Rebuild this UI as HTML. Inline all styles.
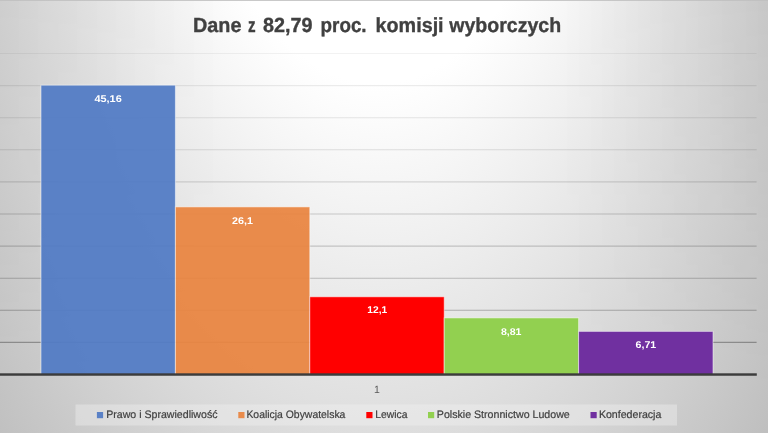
<!DOCTYPE html>
<html lang="pl">
<head>
<meta charset="utf-8">
<title>Dane z 82,79 proc. komisji wyborczych</title>
<style>
html,body{margin:0;padding:0;width:768px;height:433px;overflow:hidden;background:#d0d0d0;}
svg{display:block;position:absolute;left:0;top:0;}
text{font-family:"Liberation Sans",sans-serif;text-rendering:geometricPrecision;}
.title{font-weight:bold;font-size:20.5px;fill:#404040;stroke:#404040;stroke-width:0.35px;}
.dl{text-rendering:geometricPrecision;font-weight:bold;font-size:9.8px;fill:#ffffff;}
.lg{font-size:10.8px;fill:#404040;stroke:#404040;stroke-width:0.2px;}
.ax{font-size:10.5px;fill:#595959;}
</style>
</head>
<body>
<svg width="768" height="433" viewBox="0 0 768 433">
  <defs>
    <radialGradient id="bg" gradientUnits="userSpaceOnUse" cx="0" cy="0" r="1" gradientTransform="translate(378 -346.4) scale(548 1102.4)">
      <stop offset="0" stop-color="#ffffff"/>
      <stop offset="0.39" stop-color="#ffffff"/>
      <stop offset="1" stop-color="#bfbfbf"/>
    </radialGradient>
    <linearGradient id="vfade" x1="0" y1="0" x2="0" y2="1">
      <stop offset="0" stop-color="#ffffff"/>
      <stop offset="0.9" stop-color="#000000"/>
    </linearGradient>
    <linearGradient id="edge" gradientUnits="userSpaceOnUse" x1="0" y1="0" x2="768" y2="0">
      <stop offset="0" stop-color="#000000" stop-opacity="0.045"/>
      <stop offset="0.29" stop-color="#000000" stop-opacity="0"/>
      <stop offset="0.73" stop-color="#000000" stop-opacity="0"/>
      <stop offset="1" stop-color="#000000" stop-opacity="0.068"/>
    </linearGradient>
    <mask id="vm" maskUnits="userSpaceOnUse" x="0" y="0" width="768" height="433">
      <rect x="0" y="0" width="768" height="433" fill="url(#vfade)"/>
    </mask>
  </defs>
  <rect x="0" y="0" width="768" height="433" fill="url(#bg)"/>
  <rect x="0" y="0" width="768" height="433" fill="url(#edge)" mask="url(#vm)"/>
  <rect x="0" y="0" width="768" height="1" fill="#bfbfbf" fill-opacity="0.85"/>
  <!-- gridlines -->
  <g stroke="#000000" stroke-width="1.1">
    <line x1="0" x2="756.6" y1="53.5" y2="53.5" stroke-opacity="0.05"/>
    <line x1="0" x2="756.6" y1="85.6" y2="85.6" stroke-opacity="0.075"/>
    <line x1="0" x2="756.6" y1="117.7" y2="117.7" stroke-opacity="0.095"/>
    <line x1="0" x2="756.6" y1="149.8" y2="149.8" stroke-opacity="0.115"/>
    <line x1="0" x2="756.6" y1="181.9" y2="181.9" stroke-opacity="0.135"/>
    <line x1="0" x2="756.6" y1="214.0" y2="214.0" stroke-opacity="0.185"/>
    <line x1="0" x2="756.6" y1="246.1" y2="246.1" stroke-opacity="0.185"/>
    <line x1="0" x2="756.6" y1="278.2" y2="278.2" stroke-opacity="0.215"/>
    <line x1="0" x2="756.6" y1="310.3" y2="310.3" stroke-opacity="0.25"/>
    <line x1="0" x2="756.6" y1="342.4" y2="342.4" stroke-opacity="0.3"/>
  </g>
  <!-- bars -->
  <g stroke="#ffffff" stroke-opacity="0.5" stroke-width="1">
  <rect x="41.0" y="85.2" width="134.4" height="289.3" fill="#527bc5" fill-opacity="0.94"/>
  <rect x="175.4" y="206.9" width="134.4" height="167.6" fill="#e98541" fill-opacity="0.94"/>
  <rect x="309.8" y="296.8" width="134.4" height="77.7" fill="#ff0000"/>
  <rect x="444.2" y="317.9" width="134.4" height="56.6" fill="#92d050"/>
  <rect x="578.6" y="331.4" width="134.4" height="43.1" fill="#7030a0"/>
  </g>
  <!-- axis -->
  <rect x="0" y="373.3" width="756.8" height="2.45" fill="#3c3c3c"/>
  <!-- title -->
  <text class="title" y="32"><tspan x="193" textLength="48.5" lengthAdjust="spacingAndGlyphs">Dane</tspan> <tspan x="248" textLength="7.6" lengthAdjust="spacingAndGlyphs">z</tspan> <tspan x="263" textLength="49.5" lengthAdjust="spacingAndGlyphs">82,79</tspan> <tspan x="320.6" textLength="46" lengthAdjust="spacingAndGlyphs">proc.</tspan> <tspan x="375.6" textLength="68" lengthAdjust="spacingAndGlyphs">komisji</tspan> <tspan x="449.2" textLength="112" lengthAdjust="spacingAndGlyphs">wyborczych</tspan></text>
  <!-- data labels -->
  <text class="dl" transform="translate(108.1 102)" x="0" y="0" text-anchor="middle" textLength="27.3" lengthAdjust="spacingAndGlyphs">45,16</text>
  <text class="dl" transform="translate(242.4 223.5)" x="0" y="0" text-anchor="middle" textLength="21" lengthAdjust="spacingAndGlyphs">26,1</text>
  <text class="dl" transform="translate(377.3 313.1)" x="0" y="0" text-anchor="middle" textLength="20" lengthAdjust="spacingAndGlyphs">12,1</text>
  <text class="dl" transform="translate(511.2 334.8)" x="0" y="0" text-anchor="middle" textLength="20.6" lengthAdjust="spacingAndGlyphs">8,81</text>
  <text class="dl" transform="translate(645.9 347.8)" x="0" y="0" text-anchor="middle" textLength="20.7" lengthAdjust="spacingAndGlyphs">6,71</text>
  <!-- axis label -->
  <text class="ax" x="376.9" y="393" text-anchor="middle">1</text>
  <!-- legend -->
  <rect x="75.5" y="404.5" width="601.5" height="21" fill="#f2f2f2" fill-opacity="0.39"/>
  <rect x="96.9" y="412" width="6.2" height="6.2" fill="#527bc5" fill-opacity="0.94"/>
  <text class="lg" x="106.2" y="418" textLength="111.3" lengthAdjust="spacingAndGlyphs">Prawo i Sprawiedliwość</text>
  <rect x="238.3" y="412" width="6.2" height="6.2" fill="#e98541" fill-opacity="0.94"/>
  <text class="lg" x="246.4" y="418" textLength="99" lengthAdjust="spacingAndGlyphs">Koalicja Obywatelska</text>
  <rect x="366.3" y="412" width="6.2" height="6.2" fill="#ff0000"/>
  <text class="lg" x="375.2" y="418" textLength="32.2" lengthAdjust="spacingAndGlyphs">Lewica</text>
  <rect x="428" y="412" width="6.2" height="6.2" fill="#92d050"/>
  <text class="lg" x="436.8" y="418" textLength="133" lengthAdjust="spacingAndGlyphs">Polskie Stronnictwo Ludowe</text>
  <rect x="590.5" y="412" width="6.2" height="6.2" fill="#7030a0"/>
  <text class="lg" x="598.9" y="418" textLength="62.5" lengthAdjust="spacingAndGlyphs">Konfederacja</text>
</svg>
</body>
</html>
